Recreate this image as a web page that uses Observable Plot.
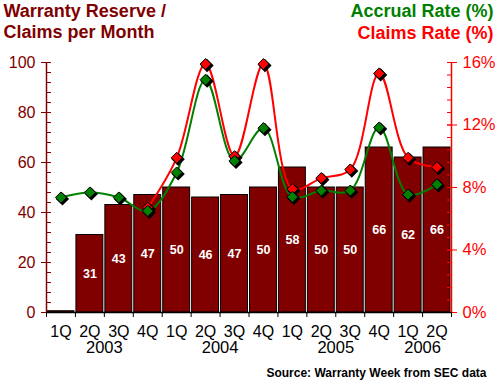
<!DOCTYPE html>
<html>
<head>
<meta charset="utf-8">
<script src="https://cdn.jsdelivr.net/npm/d3@7"></script>
<script src="https://cdn.jsdelivr.net/npm/@observablehq/plot@0.6"></script>
<style>
  html, body { margin: 0; padding: 0; background: #fff; }
  #chart svg { display: block; }
</style>
</head>
<body>
<div id="chart"></div>
<script>
const quarters = ["1Q","2Q","3Q","4Q","1Q","2Q","3Q","4Q","1Q","2Q","3Q","4Q","1Q","2Q"];
const years    = ["2003","2003","2003","2003","2004","2004","2004","2004","2005","2005","2005","2005","2006","2006"];
const reserve  = [0.5, 31, 43, 47, 50, 46, 47, 50, 58, 50, 50, 66, 62, 66];
const accrualRate = [7.36, 7.68, 7.36, 6.5, 8.96, 14.9, 9.7, 11.8, 7.4, 7.8, 7.8, 11.84, 7.55, 8.2];
const claimsRate  = [null, null, null, 6.7, 9.9, 15.9, 10.0, 15.9, 7.9, 8.6, 9.15, 15.3, 9.9, 9.3];
const leftTicks = [0, 20, 40, 60, 80, 100];
const rightTicks = [0, 4, 8, 12, 16];

const RMAX = 16; // right axis max (%)
const LMAX = 100; // left axis max
const toLeft = r => r * LMAX / RMAX;

const data = quarters.map((q, i) => ({
  i, q, year: years[i], reserve: reserve[i],
  accrual: accrualRate[i], claims: claimsRate[i]
}));
const claimsData = data.filter(d => d.claims != null);
const yearData = d3.groups(data, d => d.year).map(([year, rows]) => ({
  year, x: d3.mean(rows, d => d.i) + 0.5
}));

const DARK = "#800000", GREEN = "#008000", RED = "#ff0000";
const FONT = "'Liberation Sans', Arial, sans-serif";

const chart = Plot.plot({
  width: 500,
  height: 385,
  marginLeft: 46,
  marginRight: 49,
  marginTop: 62,
  marginBottom: 73,
  style: { fontFamily: FONT, background: "#fff", overflow: "visible" },
  x: { type: "linear", domain: [0, quarters.length], axis: null },
  y: { domain: [0, LMAX], axis: null },
  marks: [
    // bars
    Plot.rectY(data, {
      x1: d => d.i, x2: d => d.i + 1, y: "reserve",
      insetLeft: 1, insetRight: 1,
      fill: DARK, stroke: "#000", strokeWidth: 1
    }),
    // bar value labels
    Plot.text(data.filter(d => d.reserve >= 1), {
      x: d => d.i + 0.5, y: d => d.reserve / 2,
      text: d => String(d.reserve),
      fill: "#fff", fontSize: 12.5, fontWeight: "bold",
      fontFamily: "'Liberation Sans Narrow', 'Liberation Sans', sans-serif"
    }),
    // left axis
    Plot.ruleX([0], { stroke: DARK, strokeWidth: 1.5 }),
    Plot.axisY({ anchor: "left", ticks: d3.range(0, 101, 4), tickSize: 5, dx: 5,
      tickFormat: () => "", stroke: DARK, label: null }),
    Plot.axisY({ anchor: "left", ticks: leftTicks, tickSize: 10, dx: 5, tickPadding: 6,
      stroke: DARK, fill: DARK, fontSize: 16, label: null }),
    // right axis (percent)
    Plot.ruleX([quarters.length], { stroke: RED, strokeWidth: 1.5 }),
    Plot.axisY({ anchor: "right", ticks: d3.range(0, 101, 5), tickSize: 5, dx: -5,
      tickFormat: () => "", stroke: RED, label: null }),
    Plot.axisY({ anchor: "right", ticks: rightTicks.map(toLeft), tickSize: 10, dx: -5, tickPadding: 6,
      tickFormat: d => Math.round(d * RMAX / LMAX) + "%",
      stroke: RED, fill: RED, fontSize: 16.5, label: null }),
    // bottom axis
    Plot.ruleY([0], { stroke: "#000", strokeWidth: 1.5 }),
    Plot.axisX({ ticks: d3.range(0, quarters.length + 1), tickSize: 5,
      tickFormat: () => "", stroke: "#000", label: null }),
    Plot.text(data, { x: d => d.i + 0.5, text: "q", frameAnchor: "bottom",
      dy: 24, fontSize: 16, fill: "#000" }),
    Plot.text(yearData, { x: "x", text: "year", frameAnchor: "bottom",
      dy: 40, fontSize: 16.5, fill: "#000" }),
    // lines
    Plot.line(claimsData, { x: d => d.i + 0.5, y: d => toLeft(d.claims),
      stroke: RED, strokeWidth: 2, curve: "catmull-rom" }),
    Plot.line(data, { x: d => d.i + 0.5, y: d => toLeft(d.accrual),
      stroke: GREEN, strokeWidth: 2, curve: "catmull-rom" }),
    // markers: shadow then marker
    Plot.dot(claimsData, { x: d => d.i + 0.5, y: d => toLeft(d.claims),
      symbol: "diamond2", r: 5, fill: "#000", stroke: "#000", dx: 1.5, dy: 1.5 }),
    Plot.dot(claimsData, { x: d => d.i + 0.5, y: d => toLeft(d.claims),
      symbol: "diamond2", r: 5, fill: RED, stroke: "#000", strokeWidth: 1 }),
    Plot.dot(data, { x: d => d.i + 0.5, y: d => toLeft(d.accrual),
      symbol: "diamond2", r: 5, fill: "#000", stroke: "#000", dx: 1.5, dy: 1.5 }),
    Plot.dot(data, { x: d => d.i + 0.5, y: d => toLeft(d.accrual),
      symbol: "diamond2", r: 5, fill: GREEN, stroke: "#000", strokeWidth: 1 }),
    // titles
    Plot.text(["Warranty Reserve /"], { frameAnchor: "top-left", textAnchor: "start",
      lineAnchor: "bottom", dx: -43, dy: -46, fontSize: 18, fontWeight: "bold", fill: DARK }),
    Plot.text(["Claims per Month"], { frameAnchor: "top-left", textAnchor: "start",
      lineAnchor: "bottom", dx: -43, dy: -25, fontSize: 18, fontWeight: "bold", fill: DARK }),
    Plot.text(["Accrual Rate (%)"], { frameAnchor: "top-right", textAnchor: "end",
      lineAnchor: "bottom", dx: 42, dy: -46, fontSize: 18, fontWeight: "bold", fill: GREEN }),
    Plot.text(["Claims Rate (%)"], { frameAnchor: "top-right", textAnchor: "end",
      lineAnchor: "bottom", dx: 42, dy: -24, fontSize: 18, fontWeight: "bold", fill: RED }),
    Plot.text(["Source: Warranty Week from SEC data"], { frameAnchor: "bottom-right", textAnchor: "end",
      lineAnchor: "bottom", dx: 35, dy: 64, fontSize: 12, fontWeight: "bold", fill: "#000" })
  ]
});
document.getElementById("chart").appendChild(chart);
</script>
</body>
</html>
